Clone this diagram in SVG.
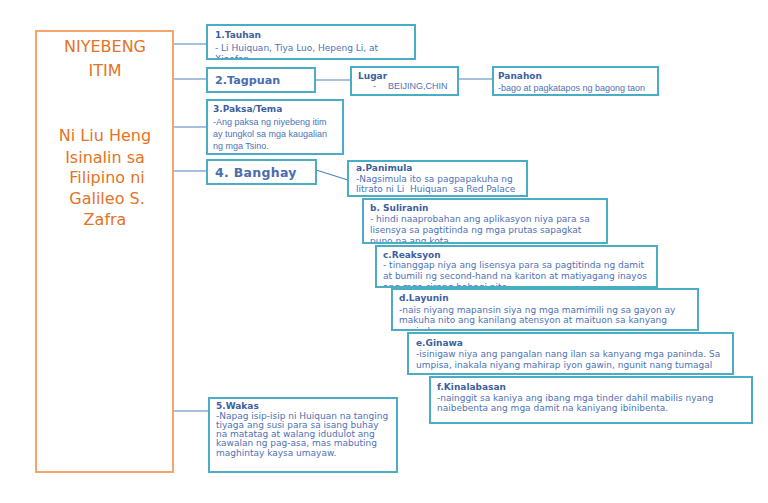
<svg xmlns="http://www.w3.org/2000/svg" width="768" height="503" viewBox="0 0 768 503">
<style>
.bg{fill:#ffffff}
.box{fill:#ffffff;stroke:#4BACC6;stroke-width:2}
.main{fill:#ffffff;stroke:#F5A46B;stroke-width:2}
.con{stroke:#4F81BD;stroke-width:1.2;fill:none}
.mt{font-family:"DejaVu Sans",sans-serif;font-size:16px;fill:#E47325;text-anchor:middle}
.t{font-family:"DejaVu Sans",sans-serif;font-size:9px;font-weight:bold;fill:#3E5FA0}
.b{font-family:"DejaVu Sans",sans-serif;font-size:9px;fill:#4E72B8}
.a{font-family:"Liberation Sans",Arial,sans-serif;font-size:9px;fill:#4E72B8}
.big{font-family:"DejaVu Sans",sans-serif;font-weight:bold;fill:#4A6DB0}
</style>
<defs>
<clipPath id="c1"><rect x="207" y="25" width="208" height="33"/></clipPath>
<clipPath id="cb"><rect x="363" y="199" width="244" height="43"/></clipPath>
<clipPath id="cc"><rect x="376" y="246" width="281" height="40"/></clipPath>
<clipPath id="cd"><rect x="392" y="289" width="306" height="40"/></clipPath>
<clipPath id="c3"><rect x="207" y="100" width="136" height="53"/></clipPath>
</defs>
<rect class="bg" x="0" y="0" width="768" height="503"/>
<g id="connectors">
<line class="con" x1="173" y1="44" x2="207" y2="44"/>
<line class="con" x1="173" y1="79" x2="207" y2="79"/>
<line class="con" x1="173" y1="127" x2="207" y2="127"/>
<line class="con" x1="173" y1="171" x2="207" y2="171"/>
<line class="con" x1="173" y1="411" x2="209" y2="411"/>
<line class="con" x1="315" y1="80" x2="351" y2="80"/>
<line class="con" x1="458" y1="79" x2="493" y2="79"/>
<line class="con" x1="316" y1="170" x2="348" y2="180"/>
</g>
<g id="main">
<rect class="main" x="36" y="31" width="137" height="441"/>
<text class="mt" x="105" y="52">NIYEBENG</text>
<text class="mt" x="105" y="76">ITIM</text>
<text class="mt" x="105" y="141">Ni Liu Heng</text>
<text class="mt" x="105" y="163">Isinalin sa</text>
<text class="mt" x="107" y="183">Filipino ni</text>
<text class="mt" x="107" y="204">Galileo S.</text>
<text class="mt" x="105" y="225">Zafra</text>
</g>
<g id="tauhan">
<rect class="box" x="207" y="25" width="208" height="34"/>
<g clip-path="url(#c1)">
<text class="t" x="215" y="38">1.Tauhan</text>
<text class="b" x="215" y="51">- Li Huiquan, Tiya Luo, Hepeng Li, at</text>
<text class="b" x="215" y="62">Xiaofen</text>
</g>
</g>
<g id="tagpuan">
<rect class="box" x="207" y="68" width="108" height="24"/>
<text class="big" x="215" y="84" font-size="11.2">2.Tagpuan</text>
</g>
<g id="lugar">
<rect class="box" x="351" y="67" width="107" height="28"/>
<text class="t" x="358" y="79">Lugar</text>
<text class="a" x="373" y="89">-</text>
<text class="a" x="388" y="89">BEIJING,CHIN</text>
</g>
<g id="panahon">
<rect class="box" x="493" y="67" width="165" height="28"/>
<text class="t" x="498" y="79">Panahon</text>
<text class="a" x="498" y="91">-bago at pagkatapos ng bagong taon</text>
</g>
<g id="paksa">
<rect class="box" x="207" y="100" width="136" height="54"/>
<g clip-path="url(#c3)">
<text class="t" x="213" y="112">3.Paksa/Tema</text>
<text class="a" x="213" y="125">-Ang paksa ng niyebeng itim</text>
<text class="a" x="213" y="137">ay tungkol sa mga kaugalian</text>
<text class="a" x="213" y="149">ng mga Tsino.</text>
</g>
</g>
<g id="banghay">
<rect class="box" x="207" y="160" width="109" height="24"/>
<text class="big" x="215" y="177" font-size="12.5" letter-spacing="0.3">4. Banghay</text>
</g>
<g id="panimula">
<rect class="box" x="348" y="161" width="179" height="35"/>
<text class="t" x="356" y="171">a.Panimula</text>
<text class="b" x="356" y="182">-Nagsimula ito sa pagpapakuha ng</text>
<text class="b" x="356" y="192" xml:space="preserve">litrato ni Li  Huiquan  sa Red Palace</text>
</g>
<g id="suliranin">
<rect class="box" x="363" y="199" width="244" height="44"/>
<g clip-path="url(#cb)">
<text class="t" x="370" y="211">b. Suliranin</text>
<text class="b" x="370" y="222">- hindi naaprobahan ang aplikasyon niya para sa</text>
<text class="b" x="370" y="233">lisensya sa pagtitinda ng mga prutas sapagkat</text>
<text class="b" x="370" y="244">puno na ang kota</text>
</g>
</g>
<g id="reaksyon">
<rect class="box" x="376" y="246" width="281" height="41"/>
<g clip-path="url(#cc)">
<text class="t" x="383" y="258">c.Reaksyon</text>
<text class="b" x="383" y="268">- tinanggap niya ang lisensya para sa pagtitinda ng damit</text>
<text class="b" x="383" y="279">at bumili ng second-hand na kariton at matiyagang inayos</text>
<text class="b" x="383" y="290">ang mga sirang bahagi nito</text>
</g>
</g>
<g id="layunin">
<rect class="box" x="392" y="289" width="306" height="41"/>
<g clip-path="url(#cd)">
<text class="t" x="399" y="301">d.Layunin</text>
<text class="b" x="399" y="313">-nais niyang mapansin siya ng mga mamimili ng sa gayon ay</text>
<text class="b" x="399" y="323">makuha nito ang kanilang atensyon at maituon sa kanyang</text>
<text class="b" x="399" y="334">paninda</text>
</g>
</g>
<g id="ginawa">
<rect class="box" x="408" y="333" width="325" height="41"/>
<text class="t" x="416" y="346">e.Ginawa</text>
<text class="b" x="416" y="357">-isinigaw niya ang pangalan nang ilan sa kanyang mga paninda. Sa</text>
<text class="b" x="416" y="368">umpisa, inakala niyang mahirap iyon gawin, ngunit nang tumagal</text>
</g>
<g id="kinalabasan">
<rect class="box" x="430" y="377" width="322" height="46"/>
<text class="t" x="437" y="390">f.Kinalabasan</text>
<text class="b" x="437" y="401">-nainggit sa kaniya ang ibang mga tinder dahil mabilis nyang</text>
<text class="b" x="437" y="411">naibebenta ang mga damit na kaniyang ibinibenta.</text>
</g>
<g id="wakas">
<rect class="box" x="209" y="398" width="188" height="74"/>
<text class="t" x="216" y="409">5.Wakas</text>
<text class="b" x="216" y="419">-Napag isip-isip ni Huiquan na tanging</text>
<text class="b" x="216" y="428">tiyaga ang susi para sa isang buhay</text>
<text class="b" x="216" y="437">na matatag at walang idudulot ang</text>
<text class="b" x="216" y="446">kawalan ng pag-asa, mas mabuting</text>
<text class="b" x="216" y="456">maghintay kaysa umayaw.</text>
</g>
</svg>
